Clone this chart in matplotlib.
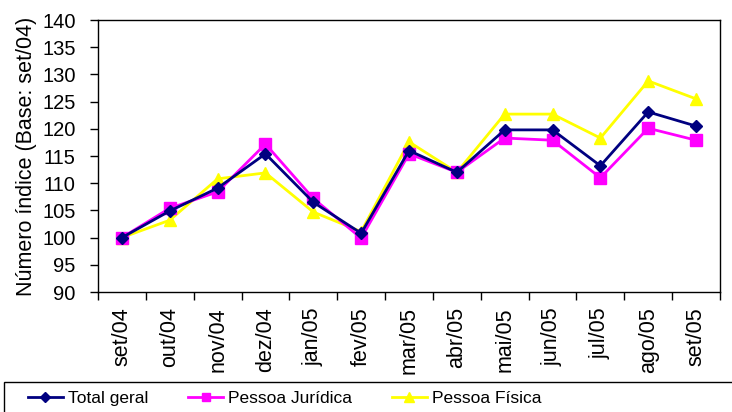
import matplotlib.pyplot as plt
import matplotlib.patches as mpatches
import numpy as np

plt.rcParams['font.family'] = ['Liberation Sans', 'DejaVu Sans']

# --- Data ---
months = ['set/04', 'out/04', 'nov/04', 'dez/04', 'jan/05', 'fev/05', 'mar/05',
          'abr/05', 'mai/05', 'jun/05', 'jul/05', 'ago/05', 'set/05']
total_geral = [100.0, 104.9, 109.1, 115.4, 106.5, 100.8, 116.0, 112.0, 119.8, 119.8, 113.2, 123.1, 120.5]
pessoa_juridica = [100.0, 105.4, 108.4, 117.2, 107.2, 99.9, 115.4, 112.0, 118.3, 117.9, 111.0, 120.1, 117.9]
pessoa_fisica = [100.0, 103.2, 110.8, 111.9, 104.7, 101.1, 117.6, 112.0, 122.7, 122.7, 118.3, 128.8, 125.5]

W, H = 732, 412
fig = plt.figure(figsize=(W / 100, H / 100), dpi=100)
ax = fig.add_axes([98 / W, 120 / H, 622 / W, 272 / H])

x = np.arange(len(months))
ax.plot(x, total_geral, color='#000080', marker='D', markersize=6.5, linewidth=2, label='Total geral', zorder=3)
ax.plot(x, pessoa_juridica, color='#FF00FF', marker='s', markersize=8, linewidth=2, label='Pessoa Jurídica', zorder=2)
ax.plot(x, pessoa_fisica, color='#FFFF00', marker='^', markersize=9, linewidth=2, label='Pessoa Física', zorder=1)

# --- Axes styling ---
ax.set_ylim(90, 140)
ax.set_yticks(np.arange(90, 141, 5))
ax.set_xlim(-0.5, len(months) - 0.5)
ax.set_xticks(x)
ax.set_xticklabels(months, rotation=90)
ax.set_xticks(np.arange(-0.5, len(months), 1), minor=True)
ax.tick_params(axis='x', which='major', length=0, pad=11, labelsize=15.5)
ax.tick_params(axis='x', which='minor', length=6, direction='out', width=1)
ax.tick_params(axis='y', length=6, direction='out', labelsize=14.5, width=1, pad=10)
ax.set_ylabel('Número índice (Base: set/04)', fontsize=15.5, labelpad=4)
for s in ax.spines.values():
    s.set_linewidth(1)
    s.set_color('black')

# --- Legend in a box at the bottom (box runs off the right and bottom edge) ---
fig.patches.append(mpatches.Rectangle((4 / W, -0.05), 1.0, (H - 382) / H + 0.05,
                                      transform=fig.transFigure, facecolor='white',
                                      edgecolor='black', linewidth=1))
leg = fig.legend(loc='center left', bbox_to_anchor=(28 / W, (H - 398) / H), ncol=3,
                 frameon=False, fontsize=12.5, handlelength=2.0, handletextpad=0.3,
                 columnspacing=2.3, borderpad=0, borderaxespad=0, markerscale=0.8)

fig.savefig('out.png', dpi=100)
